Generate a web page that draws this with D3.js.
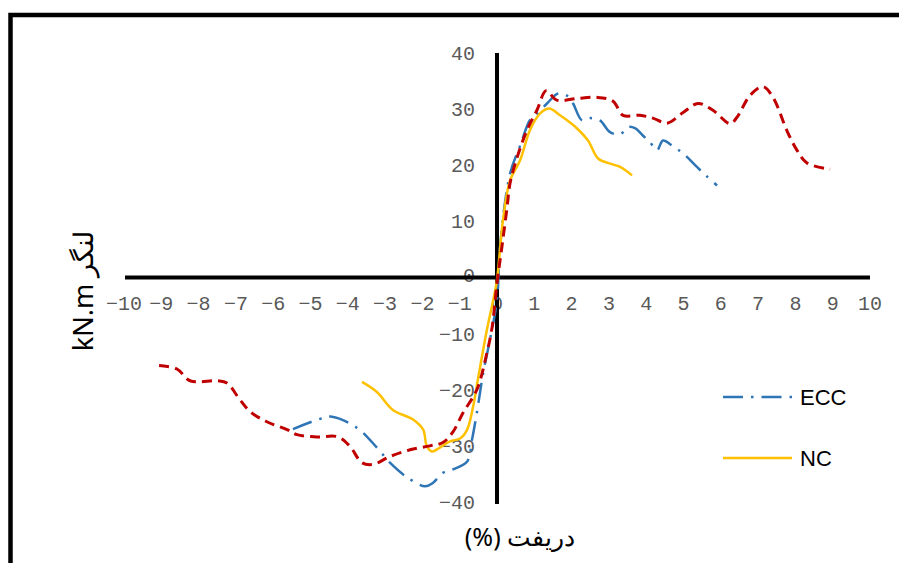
<!DOCTYPE html>
<html><head><meta charset="utf-8">
<script src="https://cdn.jsdelivr.net/npm/d3@7"></script>
<style>body{margin:0;background:#fff}svg{display:block}</style>
</head><body>
<svg id="c" width="899" height="563"></svg>
<script>
const xTicks = [-10,-9,-8,-7,-6,-5,-4,-3,-2,-1,0,1,2,3,4,5,6,7,8,9,10];
const yTicks = [-40,-30,-20,-10,0,10,20,30,40];
const legendNames = ["ECC","NC"];
const xTitle = "(%) دریفت";
const yTitle = "kN.m لنگر";

const eccX = [-5.47,-4.75,-4.42,-3.75,-3.22,-2.87,-2.41,-1.93,-1.72,-1.45,-1.18,-0.8,-0.67,-0.54,-0.37,-0.19,0,0.08,0.35,0.62,0.88,0.97,1.34,1.64,1.9,2.04,2.28,2.5,2.76,3.03,3.3,3.51,3.7,3.91,4.1,4.29,4.45,4.69,4.99,5.36,5.63,5.9];
const eccY = [-27,-25.2,-24.8,-26.8,-30.3,-33,-35.6,-37.2,-36.6,-34.8,-34.2,-32.8,-28.9,-24.1,-17,-11.1,-4,5.4,18.5,23.5,28,28.5,31,32.8,32.3,31,28,28.4,28,25.9,25.5,26.8,26.6,25.3,24.1,22.7,24.4,23.5,22.1,19.7,18,16.4];

const ncX = [-3.62,-3.22,-2.79,-2.25,-1.98,-1.88,-1.74,-1.53,-1.26,-0.99,-0.8,-0.64,-0.5,-0.27,-0.1,0,0.16,0.35,0.62,0.88,1.15,1.4,1.69,2.14,2.44,2.71,3.03,3.3,3.62];
const ncY = [-18.6,-20.4,-23.6,-25.3,-27.1,-30.1,-31,-30.3,-29.2,-28.7,-27.1,-23,-17.7,-9.3,-4,-0.4,10.2,17.3,20.9,26.2,29.2,30.1,28.9,26.6,24.4,21.2,20.3,19.7,18.2];

const redX = [-9.06,-8.58,-8.23,-7.5,-7.24,-6.89,-6.62,-6.17,-5.63,-5.36,-4.83,-4.26,-3.94,-3.62,-3.32,-2.87,-2.33,-1.8,-1.45,-1.18,-0.91,-0.54,-0.27,-0.13,0,0.13,0.27,0.35,0.54,0.8,1.07,1.32,1.6,2.14,2.68,3.11,3.38,3.83,4.18,4.56,4.99,5.39,5.79,6.25,6.43,6.78,7.13,7.4,7.77,8.04,8.31,8.93];
const redY = [-15.7,-16.3,-18.4,-18.4,-18.8,-21.8,-23.9,-25.7,-27.1,-28,-28.4,-28.4,-30.1,-33,-33.3,-31.9,-30.7,-30,-29.4,-27.5,-24.1,-20,-13.4,-8.8,-1,5.4,12.5,16.8,21.4,26.2,29.8,33.3,31.6,31.9,32.1,31.4,28.9,28.9,28.4,27.5,29.4,31,29.8,27.4,28.5,32.4,34,32.1,26.2,22.7,20.4,19.3];

const svg = d3.select("#c");
const x = d3.scaleLinear().domain([-10,10]).range([124,870]);
const y = d3.scaleLinear().domain([-40,40]).range([502,53]);

// border
svg.append("path").attr("d","M10.5,905 V15 H905").attr("fill","none").attr("stroke","#000").attr("stroke-width",4.5);

const tickFont = "'Liberation Mono','DejaVu Sans Mono',monospace";
svg.append("g").selectAll("text").data(xTicks).join("text")
  .attr("x",d=>x(d)).attr("y",y(0)+32).attr("text-anchor","middle")
  .attr("font-family",tickFont).attr("font-size",20).attr("fill","#595959")
  .text(d=>d===0?"0":(d<0?"\u2212"+Math.abs(d):d));
svg.append("g").selectAll("text").data(yTicks).join("text")
  .attr("x",x(0)-22).attr("y",d=>y(d)).attr("dy",d=>d===0?"0.2em":"0.35em").attr("text-anchor","end")
  .attr("font-family",tickFont).attr("font-size",20).attr("fill","#595959")
  .text(d=>d<0?"\u2212"+Math.abs(d):d);

// axes lines
svg.append("line").attr("x1",x(-10)+1).attr("x2",x(10)).attr("y1",y(0)).attr("y2",y(0)).attr("stroke","#000").attr("stroke-width",4);
svg.append("line").attr("x1",x(0)).attr("x2",x(0)).attr("y1",y(40)).attr("y2",y(-40)+2).attr("stroke","#000").attr("stroke-width",4);

const line = d3.line().x(d=>x(d[0])).y(d=>y(d[1])).curve(d3.curveCatmullRom.alpha(0.5));
const zip = (a,b)=>a.map((v,i)=>[v,b[i]]);

svg.append("path").datum(zip(eccX,eccY)).attr("d",line).attr("fill","none")
  .attr("stroke","#2E75B6").attr("stroke-width",2.5).attr("stroke-dasharray","20,8,2.5,8");
svg.append("path").datum(zip(ncX,ncY)).attr("d",line).attr("fill","none")
  .attr("stroke","#FFC000").attr("stroke-width",2.5);
svg.append("path").datum(zip(redX,redY)).attr("d",line).attr("fill","none")
  .attr("stroke","#C00000").attr("stroke-width",3).attr("stroke-dasharray","10,6");

// legend
const lg = svg.append("g");
const legY = [397,458];
lg.append("line").attr("x1",723).attr("x2",792).attr("y1",legY[0]).attr("y2",legY[0])
  .attr("stroke","#2E75B6").attr("stroke-width",2.5).attr("stroke-dasharray","20,8,2.5,8");
lg.append("line").attr("x1",723).attr("x2",792).attr("y1",legY[1]).attr("y2",legY[1])
  .attr("stroke","#FFC000").attr("stroke-width",2.5);
lg.selectAll("text").data(legendNames).join("text")
  .attr("x",800).attr("y",(d,i)=>legY[i]).attr("dy","0.35em")
  .attr("font-family","'Liberation Sans','Noto Sans',sans-serif").attr("font-size",22).attr("fill","#000")
  .text(d=>d);

// titles
svg.append("text").attr("x",520).attr("y",546).attr("text-anchor","middle")
  .attr("font-family","'Noto Sans','Liberation Sans',sans-serif").attr("font-size",25).attr("fill","#000")
  .text(xTitle);
svg.append("text").attr("transform","translate(93,291) rotate(-90)").attr("text-anchor","middle")
  .attr("font-family","'Noto Sans','Liberation Sans',sans-serif").attr("font-size",27).attr("fill","#000")
  .text(yTitle);
</script>
</body></html>
